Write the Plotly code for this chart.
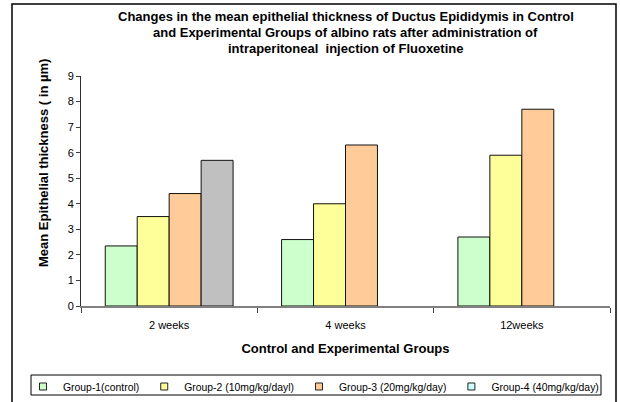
import plotly.graph_objects as go

# Data: mean epithelial thickness (µm) of ductus epididymis per group and period
periods = ["2 weeks", "4 weeks", "12weeks"]
group_names = [
    "Group-1(control)",
    "Group-2 (10mg/kg/dayl)",
    "Group-3 (20mg/kg/day)",
    "Group-4 (40mg/kg/day)",
]
group1 = [2.35, 2.6, 2.7]
group2 = [3.5, 4.0, 5.9]
group3 = [4.4, 6.3, 7.7]
group4 = [5.7, None, None]
y_ticks = [0, 1, 2, 3, 4, 5, 6, 7, 8, 9]

title_lines = [
    "Changes in the mean epithelial thickness of Ductus Epididymis in Control",
    "and Experimental Groups of albino rats after administration of",
    "intraperitoneal  injection of Fluoxetine",
]

bar_colors = ["#CCFFCC", "#FFFF99", "#FFCC99", "#C0C0C0"]
legend_colors = ["#CCFFCC", "#FFFF99", "#FFCC99", "#CCFFFF"]

FONT = "Liberation Sans, Arial, sans-serif"

fig = go.Figure()
for name, vals, col in zip(group_names, [group1, group2, group3, group4], bar_colors):
    fig.add_trace(go.Bar(
        x=periods, y=vals, name=name, showlegend=False,
        marker=dict(color=col, line=dict(color="#111111", width=1)),
    ))

# legend entries drawn with small square keys
for name, col in zip(group_names, legend_colors):
    fig.add_trace(go.Scatter(
        x=[None], y=[None], mode="markers", name=name,
        marker=dict(symbol="square", size=7, color=col,
                    line=dict(color="#222222", width=1)),
    ))

L, R, T, B = 81, 10, 76, 96
W, H = 620, 402
pw = W - L - R
ph = H - T - B

def px_x(x):
    return (x - L) / pw

def px_y(y):
    return (H - B - y) / ph

annotations = [
    dict(text=f"<b>{line}</b>", xref="paper", yref="paper", x=0.5, y=px_y(cy),
         xanchor="center", yanchor="middle", showarrow=False,
         font=dict(family=FONT, size=13))
    for line, cy in zip(title_lines, [17, 33, 48.5])
]
annotations.append(
    dict(text="<b>Mean Epithelial thickness ( in µm)</b>", textangle=-90,
         xref="paper", yref="paper", x=px_x(43), y=px_y(163),
         xanchor="center", yanchor="middle", showarrow=False,
         font=dict(family=FONT, size=13))
)

fig.update_layout(
    width=W, height=H,
    margin=dict(l=L, r=R, t=T, b=B, autoexpand=False),
    paper_bgcolor="white", plot_bgcolor="white",
    barmode="group", bargap=0.275, bargroupgap=0,
    font=dict(family=FONT, size=10, color="black"),
    showlegend=True,
    legend=dict(
        orientation="h", x=px_x(23), y=px_y(372), xanchor="left", yanchor="top",
        borderwidth=0, bgcolor="rgba(0,0,0,0)",
        font=dict(family=FONT, size=10.4),
        itemwidth=30,
    ),
    xaxis=dict(
        type="category", showline=True, linecolor="#808080", linewidth=2,
        ticks="outside", tickson="boundaries", ticklen=5, tickcolor="#404040",
        ticklabelstandoff=8,
        tickfont=dict(family=FONT, size=11), showgrid=False, zeroline=False,
        title=dict(text="<b>Control and Experimental Groups</b>",
                   font=dict(family=FONT, size=13), standoff=14),
    ),
    yaxis=dict(
        range=[0, 9], tickvals=y_ticks, showline=True, linecolor="#303030",
        linewidth=1, ticks="outside", ticklen=4, tickcolor="#404040",
        tickfont=dict(family=FONT, size=11), showgrid=False, zeroline=False,
    ),
    annotations=annotations,
    shapes=[
        # outer chart frame
        dict(type="rect", xref="paper", yref="paper",
             x0=px_x(12), x1=px_x(616), y0=px_y(412), y1=px_y(4),
             line=dict(color="black", width=1.5), fillcolor="rgba(0,0,0,0)",
             layer="above"),
        # legend frame
        dict(type="rect", xref="paper", yref="paper",
             x0=px_x(31), x1=px_x(601), y0=px_y(395), y1=px_y(375),
             line=dict(color="black", width=1), fillcolor="rgba(0,0,0,0)",
             layer="above"),
    ],
)

fig.write_html("out.html")
